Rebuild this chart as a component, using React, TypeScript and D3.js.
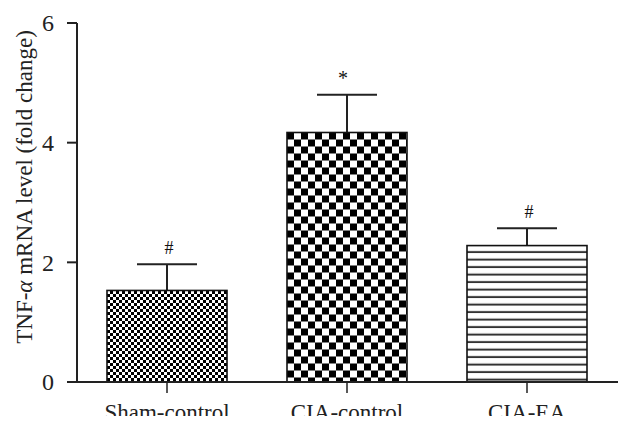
import React from "react";
import * as d3 from "d3";

const categories = ["Sham-control", "CIA-control", "CIA-EA"];
const means = [1.53, 4.17, 2.28];
const errors = [0.44, 0.63, 0.29];
const marks = ["#", "*", "#"];
const yTicks = [0, 2, 4, 6];
const patterns = ["fineCheck", "bigCheck", "hLines"];

const W = 632;
const H = 429;
const FONT = "'Liberation Serif', 'Times New Roman', serif";

export default function App() {
  const x = d3
    .scaleBand<string>()
    .domain(categories)
    .range([77, 617])
    .paddingInner(1 / 3)
    .paddingOuter(1 / 6);
  const y = d3.scaleLinear().domain([0, 6]).range([382, 23]);
  const bw = x.bandwidth();
  const capW = bw / 2;

  return (
    <svg
      width={W}
      height={H}
      style={{ position: "absolute", left: 0, top: 0, background: "#fff" }}
    >
      <defs>
        <pattern id="fineCheck" patternUnits="userSpaceOnUse" x={x(categories[0])} y={0} width={6} height={6}>
          <rect width={6} height={6} fill="#fff" />
          <rect x={0} y={0} width={3} height={3} fill="#000" />
          <rect x={3} y={3} width={3} height={3} fill="#000" />
        </pattern>
        <pattern id="bigCheck" patternUnits="userSpaceOnUse" x={x(categories[1])} y={y(means[1])} width={14} height={14}>
          <rect width={14} height={14} fill="#fff" />
          <rect x={0} y={0} width={7} height={7} fill="#000" />
          <rect x={7} y={7} width={7} height={7} fill="#000" />
        </pattern>
        <pattern id="hLines" patternUnits="userSpaceOnUse" x={0} y={y(means[2])} width={10} height={7.5}>
          <rect width={10} height={7.5} fill="#fff" />
          <rect x={0} y={5.5} width={10} height={2} fill="#333" />
        </pattern>
        <clipPath id="cut">
          <rect x={0} y={0} width={W} height={416} />
        </clipPath>
      </defs>
      <g clipPath="url(#cut)" fontFamily={FONT}>
        {categories.map((c, i) => {
          const x0 = x(c) as number;
          const cx = x0 + bw / 2;
          const top = y(means[i]);
          const eTop = y(means[i] + errors[i]);
          const isStar = marks[i] === "*";
          return (
            <g key={c}>
              <line x1={cx} x2={cx} y1={top} y2={eTop} stroke="#222" strokeWidth={2} />
              <line x1={cx - capW / 2} x2={cx + capW / 2} y1={eTop} y2={eTop} stroke="#222" strokeWidth={2} />
              <rect
                x={x0}
                y={top}
                width={bw}
                height={y(0) - top}
                fill={`url(#${patterns[i]})`}
                stroke="#111"
                strokeWidth={1.6}
              />
              <text
                x={cx + (isStar ? -4 : 2)}
                y={eTop - 10}
                textAnchor="middle"
                fontSize={isStar ? 20 : 18}
                fill="#111"
              >
                {marks[i]}
              </text>
            </g>
          );
        })}
        <line x1={77} x2={77} y1={y(6)} y2={y(0)} stroke="#222" strokeWidth={2} />
        {yTicks.map((t) => (
          <g key={t}>
            <line x1={67} x2={77} y1={y(t)} y2={y(t)} stroke="#222" strokeWidth={2} />
            <text x={54} y={y(t)} dy="0.35em" textAnchor="end" fontSize={24} fill="#222">
              {t}
            </text>
          </g>
        ))}
        <line x1={67} x2={618} y1={y(0)} y2={y(0)} stroke="#222" strokeWidth={2} />
        {categories.map((c) => {
          const cx = (x(c) as number) + bw / 2;
          return (
            <g key={c}>
              <line x1={cx} x2={cx} y1={y(0)} y2={y(0) + 11} stroke="#222" strokeWidth={1.5} />
              <text x={cx} y={420} textAnchor="middle" fontSize={23} fill="#222">
                {c}
              </text>
            </g>
          );
        })}
        <text
          transform={`translate(32, ${187}) rotate(-90)`}
          textAnchor="middle"
          fontSize={23}
          fill="#222"
        >
          TNF-<tspan fontStyle="italic">α</tspan> mRNA level (fold change)
        </text>
      </g>
    </svg>
  );
}
